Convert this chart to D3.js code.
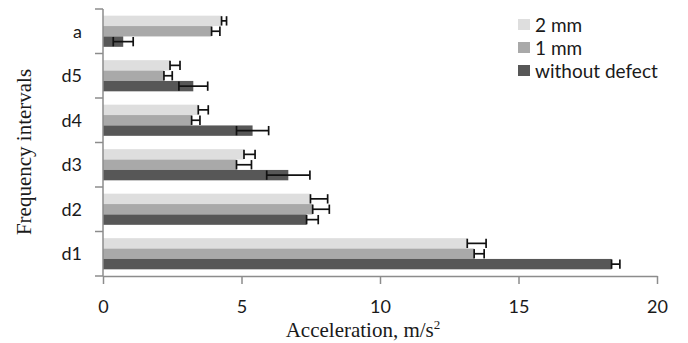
<!DOCTYPE html>
<html>
<head>
<meta charset="utf-8">
<script src="https://cdn.jsdelivr.net/npm/d3@7"></script>
<style>
  html, body { margin: 0; padding: 0; background: #fff; }
  svg { display: block; }
</style>
</head>
<body>
<div id="chart"></div>
<script>
// categories top to bottom
const categories = ['a', 'd5', 'd4', 'd3', 'd2', 'd1']
const seriesNames = ['2 mm', '1 mm', 'without defect']
const seriesColors = ['#dedede', '#a9a9a9', '#575757']

// bar values per series, same order as categories
const values2mm = [4.28, 2.42, 3.44, 5.09, 7.49, 13.15]
const values1mm = [3.92, 2.2, 3.2, 4.82, 7.57, 13.4]
const valuesNoDefect = [0.73, 3.26, 5.4, 6.69, 7.35, 18.36]

// error arms (minus / plus)
const errMinus2mm = [0, 0, 0, 0, 0, 0]
const errPlus2mm = [0.18, 0.36, 0.36, 0.4, 0.62, 0.68]
const errMinus1mm = [0, 0, 0, 0, 0, 0]
const errPlus1mm = [0.3, 0.3, 0.3, 0.54, 0.6, 0.36]
const errMinusNoDefect = [0.36, 0.52, 0.58, 0.78, 0, 0]
const errPlusNoDefect = [0.36, 0.52, 0.58, 0.78, 0.42, 0.3]

const xTicks = [0, 5, 10, 15, 20]

const width = 688
const height = 343
const margin = { top: 9, right: 31, bottom: 67, left: 103 }

const series = [
  { name: seriesNames[0], color: seriesColors[0], values: values2mm, lo: errMinus2mm, hi: errPlus2mm },
  { name: seriesNames[1], color: seriesColors[1], values: values1mm, lo: errMinus1mm, hi: errPlus1mm },
  { name: seriesNames[2], color: seriesColors[2], values: valuesNoDefect, lo: errMinusNoDefect, hi: errPlusNoDefect }
]

const svg = d3.select('#chart').append('svg')
  .attr('width', width)
  .attr('height', height)

const x = d3.scaleLinear()
  .domain([0, 20])
  .range([margin.left, width - margin.right])

const y = d3.scaleBand()
  .domain(categories)
  .range([margin.top, height - margin.bottom])
  .paddingInner(0.3)
  .paddingOuter(0.15)

const yInner = d3.scaleBand()
  .domain(seriesNames)
  .range([0, y.bandwidth()])

const axisColor = '#8c8c8c'
const sansFont = 'Lato, "Open Sans", sans-serif'
const serifFont = '"Liberation Serif", "DejaVu Serif", serif'

// bars
const groups = svg.append('g')
  .selectAll('g')
  .data(series)
  .join('g')

groups.selectAll('rect')
  .data((s) => categories.map((c, i) => ({ c, v: s.values[i], s })))
  .join('rect')
  .attr('x', x(0))
  .attr('y', (d) => y(d.c) + yInner(d.s.name))
  .attr('width', (d) => x(d.v) - x(0))
  .attr('height', yInner.bandwidth())
  .attr('fill', (d) => d.s.color)

// error bars
const errG = svg.append('g')
  .attr('stroke', '#111')
  .attr('stroke-width', 1.7)
  .attr('fill', 'none')

series.forEach((s) => {
  categories.forEach((c, i) => {
    const cy = y(c) + yInner(s.name) + yInner.bandwidth() / 2
    const x1 = x(s.values[i] - s.lo[i])
    const x2 = x(s.values[i] + s.hi[i])
    const capH = yInner.bandwidth() * 0.45
    errG.append('line').attr('x1', x1).attr('x2', x2).attr('y1', cy).attr('y2', cy)
    errG.append('line').attr('x1', x1).attr('x2', x1).attr('y1', cy - capH).attr('y2', cy + capH)
    errG.append('line').attr('x1', x2).attr('x2', x2).attr('y1', cy - capH).attr('y2', cy + capH)
  })
})

// x axis
const xAxis = svg.append('g')
  .attr('transform', `translate(0,${height - margin.bottom})`)
  .call(d3.axisBottom(x).tickValues(xTicks).tickSize(8).tickPadding(16).tickSizeOuter(0))
xAxis.select('.domain').attr('stroke', axisColor).attr('stroke-width', 1.5)
xAxis.selectAll('.tick line').attr('stroke', axisColor).attr('stroke-width', 1.5)
xAxis.selectAll('.tick text')
  .attr('font-family', sansFont)
  .attr('font-size', 18)
  .attr('fill', '#1a1a1a')

// y axis: line plus ticks at band boundaries
const yLine = svg.append('g').attr('stroke', axisColor).attr('stroke-width', 1.5)
yLine.append('line')
  .attr('x1', x(0)).attr('x2', x(0))
  .attr('y1', margin.top).attr('y2', height - margin.bottom)
const yStep = (height - margin.bottom - margin.top) / categories.length
d3.range(categories.length + 1).forEach((i) => {
  const yy = margin.top + i * yStep
  yLine.append('line').attr('x1', x(0) - 8).attr('x2', x(0)).attr('y1', yy).attr('y2', yy)
})

svg.append('g')
  .selectAll('text')
  .data(categories)
  .join('text')
  .attr('x', x(0) - 21)
  .attr('y', (c) => y(c) + y.bandwidth() / 2)
  .attr('dy', '0.35em')
  .attr('text-anchor', 'end')
  .attr('font-family', sansFont)
  .attr('font-size', 18)
  .attr('fill', '#1a1a1a')
  .text((c) => c)

// axis titles
const xTitle = svg.append('text')
  .attr('x', 363)
  .attr('y', 337)
  .attr('text-anchor', 'middle')
  .attr('font-family', serifFont)
  .attr('font-size', 21)
  .attr('fill', '#1a1a1a')
xTitle.append('tspan').text('Acceleration, m/s')
xTitle.append('tspan').attr('dy', -8).attr('font-size', 13).text('2')

svg.append('text')
  .attr('transform', 'translate(31,152) rotate(-90)')
  .attr('text-anchor', 'middle')
  .attr('font-family', serifFont)
  .attr('font-size', 21)
  .attr('fill', '#1a1a1a')
  .text('Frequency intervals')

// legend
const legend = svg.append('g')
  .selectAll('g')
  .data(series)
  .join('g')
  .attr('transform', (d, i) => `translate(518,${19 + i * 23})`)
legend.append('rect')
  .attr('width', 12)
  .attr('height', 11)
  .attr('fill', (d) => d.color)
legend.append('text')
  .attr('x', 17)
  .attr('y', 6)
  .attr('dy', '0.36em')
  .attr('font-family', sansFont)
  .attr('font-size', 19)
  .attr('fill', '#1a1a1a')
  .text((d) => d.name)
</script>
</body>
</html>
